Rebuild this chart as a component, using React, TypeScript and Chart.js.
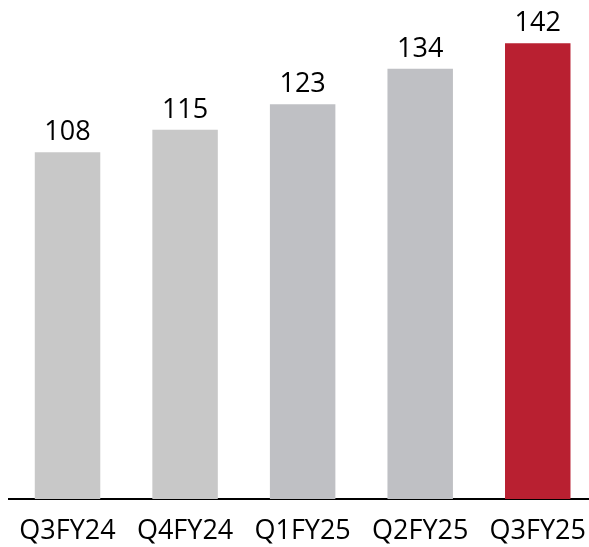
import React, { useEffect, useRef } from "react";
import { Chart, registerables } from "chart.js";

Chart.register(...registerables);

const categories = ["Q3FY24", "Q4FY24", "Q1FY25", "Q2FY25", "Q3FY25"];
const values = [108, 115, 123, 134, 142];
const barColors = ["#c8c8c8", "#c8c8c8", "#bfc0c4", "#bfc0c4", "#b92031"];

const FONT = "'Open Sans', 'Liberation Sans', sans-serif";

const valueLabels = {
  id: "valueLabels",
  afterDatasetsDraw(chart: any) {
    const ctx = chart.ctx;
    const meta = chart.getDatasetMeta(0);
    ctx.save();
    ctx.font = `27px ${FONT}`;
    ctx.fillStyle = "#000000";
    ctx.textAlign = "center";
    ctx.textBaseline = "alphabetic";
    meta.data.forEach((bar: any, i: number) => {
      ctx.fillText(String(values[i]), bar.x, bar.y - 12);
    });
    ctx.restore();
  },
};

export default function App() {
  const ref = useRef<HTMLCanvasElement>(null);
  useEffect(() => {
    if (!ref.current) return;
    const chart = new Chart(ref.current, {
      type: "bar",
      data: {
        labels: categories,
        datasets: [
          {
            data: values,
            backgroundColor: barColors,
            borderWidth: 0,
            barPercentage: 0.557,
            categoryPercentage: 1,
          },
        ],
      },
      options: {
        responsive: false,
        animation: false,
        events: [],
        layout: { padding: { left: 8.75, right: 0.75, top: 17.5, bottom: 0 } },
        plugins: { legend: { display: false }, tooltip: { enabled: false } },
        scales: {
          x: {
            grid: { display: false, drawTicks: false },
            border: { display: true, color: "#000000", width: 2 },
            ticks: {
              color: "#000000",
              font: { family: FONT, size: 27 },
              padding: 16,
              autoSkip: false,
              maxRotation: 0,
              minRotation: 0,
            },
            afterFit: (scale: any) => {
              scale.height = 48;
            },
          },
          y: {
            display: false,
            min: 0,
            max: 150,
          },
        },
      },
      plugins: [valueLabels],
    });
    return () => chart.destroy();
  }, []);
  return (
    <div
      style={{
        position: "absolute",
        left: 0,
        top: 0,
        width: 589,
        height: 547,
        overflow: "hidden",
        background: "#ffffff",
      }}
    >
      <canvas ref={ref} width={602} height={547} style={{ width: 602, height: 547, display: "block" }} />
    </div>
  );
}
